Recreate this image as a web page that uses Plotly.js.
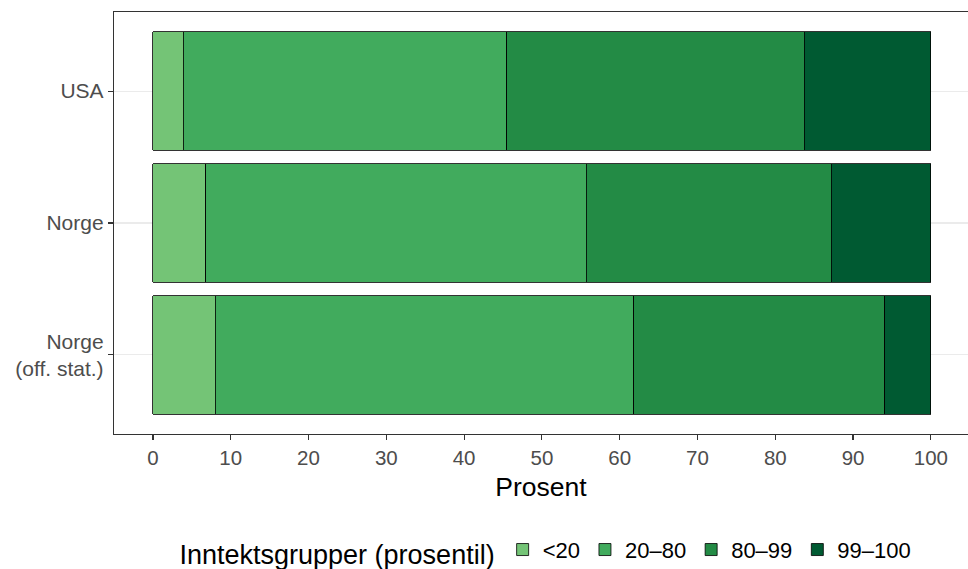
<!DOCTYPE html>
<html>
<head>
<meta charset="utf-8">
<script src="https://cdn.plot.ly/plotly-3.0.1.min.js"></script>
<style>html,body{margin:0;padding:0;background:#fff;}#chart{width:968px;height:569px;}</style>
</head>
<body>
<div id="chart"></div>
<script>
const categories = ["USA", "Norge", "Norge<br>(off. stat.)"];
const groupNames = ["<20", "20\u201380", "80\u201399", "99\u2013100"];
const under20 = [3.9, 6.8, 8.0];
const p20to80 = [41.6, 48.9, 53.8];
const p80to99 = [38.2, 31.5, 32.3];
const p99to100 = [16.3, 12.8, 5.9];
const colors = ["#74c476", "#41ab5d", "#238b45", "#005a32"];

const series = [under20, p20to80, p80to99, p99to100];
const traces = series.map((vals, i) => ({
  type: "bar",
  orientation: "h",
  name: groupNames[i],
  x: vals,
  y: categories,
  marker: {color: colors[i], line: {color: "#000000", width: 0.8}},
  hoverinfo: "x+y+name"
}));

const font = "Liberation Sans, Arial, Helvetica, sans-serif";
const layout = {
  width: 968, height: 569,
  margin: {l: 114, r: 0, t: 12, b: 135, autoexpand: false},
  paper_bgcolor: "#ffffff", plot_bgcolor: "#ffffff",
  barmode: "stack",
  bargap: 0.1,
  font: {family: font, color: "#4d4d4d", size: 20.5},
  xaxis: {
    range: [-5, 104.77],
    tickvals: [0,10,20,30,40,50,60,70,80,90,100],
    ticks: "outside", ticklen: 5, tickcolor: "#333333", tickwidth: 1.2,
    tickfont: {size: 20.5, color: "#4d4d4d"},
    showgrid: false, zeroline: false,
    showline: true, mirror: true, linecolor: "#333333", linewidth: 1.2,
    title: {text: "Prosent", font: {size: 26.5, color: "#000000"}, standoff: 9}
  },
  yaxis: {
    type: "category",
    categoryorder: "array",
    categoryarray: ["Norge<br>(off. stat.)", "Norge", "USA"],
    range: [-0.6, 2.6],
    ticks: "outside", ticklen: 5, tickcolor: "#333333", tickwidth: 1.2,
    tickfont: {size: 21, color: "#4d4d4d"},
    showgrid: true, gridcolor: "#ebebeb", gridwidth: 1.2,
    zeroline: false,
    showline: true, mirror: true, linecolor: "#333333", linewidth: 1.2
  },
  showlegend: true,
  legend: {
    orientation: "h",
    x: 0.507, xanchor: "center",
    y: -0.279, yanchor: "middle",
    title: {text: "Inntektsgrupper (prosentil)", side: "left", font: {size: 27, color: "#000000"}},
    font: {size: 22, color: "#000000"},
    traceorder: "normal",
    itemwidth: 30
  }
};

Plotly.newPlot("chart", traces, layout, {displayModeBar: false, staticPlot: true});
</script>
</body>
</html>
